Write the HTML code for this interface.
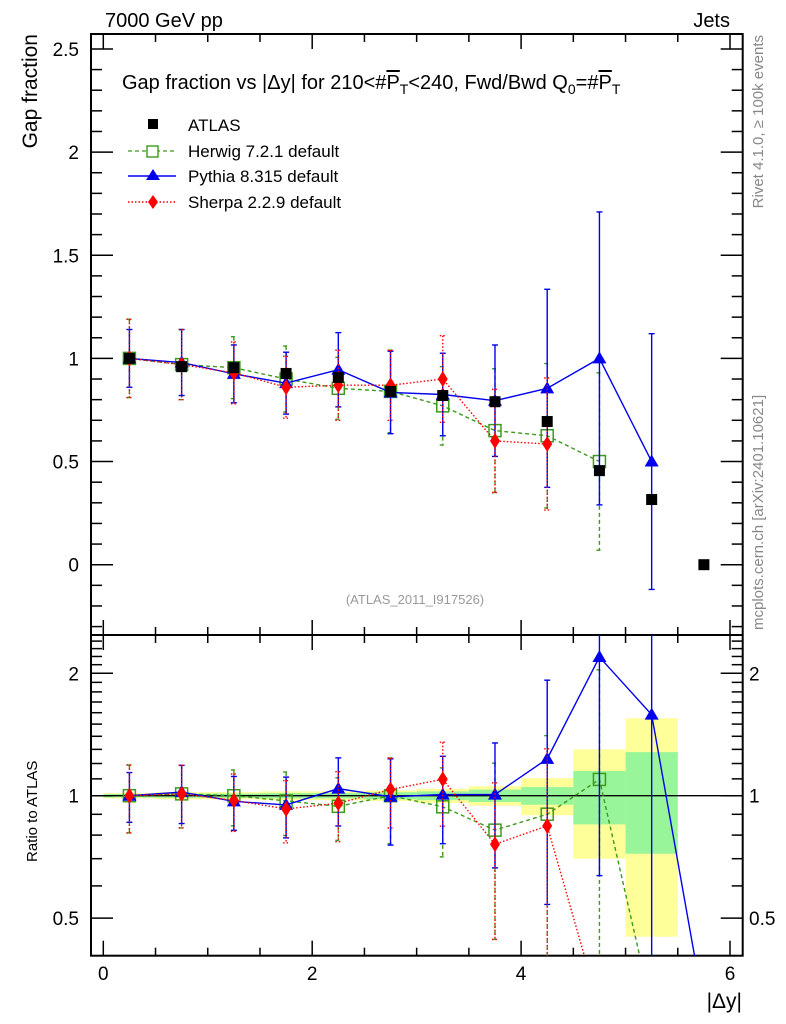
<!DOCTYPE html>
<html><head><meta charset="utf-8"><style>
html,body{margin:0;padding:0;background:#fff;overflow:hidden;width:786px;height:1024px;}
svg{display:block;font-family:"Liberation Sans",sans-serif;}
</style></head><body>
<svg id="c" width="786" height="1024" viewBox="0 0 786 1024" xmlns="http://www.w3.org/2000/svg">
<defs>
<clipPath id="cm"><rect x="91" y="34" width="651.7" height="601"/></clipPath>
<clipPath id="cr"><rect x="91" y="635" width="651.7" height="320.7"/></clipPath>
</defs>
<g id="bands" clip-path="url(#cr)"></g>
<g id="grid"></g>
<g id="main" clip-path="url(#cm)"></g>
<g id="ratio" clip-path="url(#cr)"></g>
<text x="105" y="27" font-size="20">7000 GeV pp</text>
<text x="730" y="27" font-size="20" text-anchor="end">Jets</text>
<text x="122" y="89" font-size="20">Gap fraction vs |Δy| for 210&lt;#<tspan text-decoration="overline">P</tspan><tspan font-size="14" dy="5">T</tspan><tspan dy="-5">&lt;240, Fwd/Bwd Q</tspan><tspan font-size="14" dy="5">0</tspan><tspan dy="-5">=#</tspan><tspan text-decoration="overline">P</tspan><tspan font-size="14" dy="5">T</tspan></text>
<g>
<rect x="148" y="119" width="10" height="10" fill="#000"/>
<text x="188" y="131" font-size="17">ATLAS</text>
<line x1="128" y1="151" x2="176" y2="151" stroke="#3c9a1c" stroke-width="1.3" stroke-dasharray="4,3"/>
<rect x="147" y="146" width="11" height="11" fill="#fff" stroke="#3c9a1c" stroke-width="1.4"/>
<text x="188" y="157" font-size="17">Herwig 7.2.1 default</text>
<line x1="128" y1="176" x2="176" y2="176" stroke="#0000ee" stroke-width="1.4"/>
<polygon points="153,169 160,180 146,180" fill="#0000ee"/>
<text x="188" y="182" font-size="17">Pythia 8.315 default</text>
<line x1="128" y1="202" x2="176" y2="202" stroke="#ff0000" stroke-width="1.4" stroke-dasharray="1.5,2"/>
<polygon points="153,195 158,202 153,209 148,202" fill="#ff0000"/>
<text x="188" y="208" font-size="17">Sherpa 2.2.9 default</text>
</g>
<text x="415" y="604" font-size="13" fill="#999" text-anchor="middle">(ATLAS_2011_I917526)</text>
<text transform="translate(763,35) rotate(-90)" font-size="15" fill="#888" text-anchor="end">Rivet 4.1.0, ≥ 100k events</text>
<text transform="translate(763,630) rotate(-90)" font-size="15" fill="#888">mcplots.cern.ch [arXiv:2401.10621]</text>
<text transform="translate(37,34) rotate(-90)" font-size="21" text-anchor="end">Gap fraction</text>
<text transform="translate(37,862) rotate(-90)" font-size="15">Ratio to ATLAS</text>
<text x="742" y="1008" font-size="21" text-anchor="end">|Δy|</text>
</svg>
<script>
const xCenters=[0.25,0.75,1.25,1.75,2.25,2.75,3.25,3.75,4.25,4.75,5.25,5.75];
const atlas=[1.0,0.96,0.955,0.927,0.908,0.84,0.82,0.79,0.694,0.456,0.316,0.0];
const bandTotal=[0.015,0.02,0.02,0.025,0.025,0.03,0.04,0.055,0.105,0.3,0.55,0];
const bandStat=[0.01,0.012,0.012,0.015,0.015,0.02,0.025,0.035,0.05,0.15,0.28,0];
const herwig=[1.0,0.97,0.955,0.9,0.855,0.84,0.77,0.65,0.625,0.5];
const herwigErr=[0.19,0.17,0.15,0.16,0.15,0.2,0.19,0.3,0.35,0.43];
const pythia=[1.0,0.98,0.925,0.88,0.945,0.835,0.825,0.795,0.855,1.0,0.5];
const pythiaErr=[0.14,0.16,0.14,0.15,0.18,0.2,0.2,0.27,0.48,0.71,0.62];
const sherpa=[1.0,0.97,0.93,0.86,0.87,0.87,0.9,0.6,0.585];
const sherpaErr=[0.19,0.17,0.15,0.15,0.17,0.17,0.21,0.25,0.32];
const ratioTail=0.3;
const xTicks=[0,2,4,6];
const yTicks=[0,0.5,1,1.5,2,2.5];
const rTicks=[0.5,1,2];

const NS="http://www.w3.org/2000/svg";
const X=v=>103.3+v*104.45;
const Y=v=>564.7-v*206.3;
const R=v=>795.7-122.4*Math.log2(v);
const L=0.25;
function mk(p,tag,at){const e=document.createElementNS(NS,tag);for(const k in at)e.setAttribute(k,at[k]);p.appendChild(e);return e;}
const grid=document.getElementById('grid'),main=document.getElementById('main'),ratio=document.getElementById('ratio'),bands=document.getElementById('bands');

for(let i=0;i<xCenters.length;i++){
  if(atlas[i]<=0)continue;
  const x0=X(xCenters[i]-L),w=X(xCenters[i]+L)-x0;
  let r=mk(bands,'rect',{x:x0,y:R(1+bandTotal[i]),width:w,height:R(Math.max(1-bandTotal[i],0.01))-R(1+bandTotal[i]),fill:'#ffff99'});
  
  
  r=mk(bands,'rect',{x:x0,y:R(1+bandStat[i]),width:w,height:R(1-bandStat[i])-R(1+bandStat[i]),fill:'#99f599'});
  
  
}
mk(ratio,'line',{x1:91,x2:743,y1:R(1),y2:R(1),stroke:'#000','stroke-width':1.3});

mk(grid,'rect',{x:91,y:34,width:651.7,height:921.7,fill:'none',stroke:'#000','stroke-width':2});
mk(grid,'line',{x1:91,x2:742.7,y1:635,y2:635,stroke:'#000','stroke-width':2});
function tk(x1,y1,x2,y2){mk(grid,'line',{x1,y1,x2,y2,stroke:'#000','stroke-width':1.5});}
for(let v=0;v<=6;v+=0.5){const x=X(v),big=(v%2===0);const l=big?15:8;
  tk(x,955.7,x,955.7-l);tk(x,635,x,635-l);tk(x,635,x,635+l);tk(x,34,x,34+l);}
xTicks.forEach(v=>{const t=mk(grid,'text',{x:X(v),y:980,'font-size':19,'text-anchor':'middle'});t.textContent=v;
  
  });
for(let k=-3;k<=25;k++){const v=k/10,y=Y(v);if(y<35||y>634)continue;const big=(k%5===0);const l=big?22:11;
  tk(91,y,91+l,y);tk(742.7,y,742.7-l,y);}
yTicks.forEach(v=>{const t=mk(grid,'text',{x:79,y:Y(v)+7,'font-size':19,'text-anchor':'end'});t.textContent=v;
  
  });
const minors=[0.4,0.6,0.7,0.8,0.9,1.1,1.2,1.3,1.4,1.5,1.6,1.7,1.8,1.9,2.1,2.2,2.3,2.4,2.5];
minors.forEach(v=>{const y=R(v);if(y<636||y>955)return;tk(91,y,102,y);tk(742.7,y,731.7,y);});
rTicks.forEach(v=>{const y=R(v);tk(91,y,113,y);tk(742.7,y,720.7,y);
  let t=mk(grid,'text',{x:79,y:y+7,'font-size':19,'text-anchor':'end'});t.textContent=v;
  
  
  t=mk(grid,'text',{x:749,y:y+7,'font-size':19});t.textContent=v;
  
  });

function marker(g,type,x,y,col){
  let e;
  if(type==='sq')e=mk(g,'rect',{x:x-5.5,y:y-5.5,width:11,height:11,fill:'#000'});
  else if(type==='osq')e=mk(g,'rect',{x:x-6,y:y-6,width:12,height:12,fill:'none',stroke:col,'stroke-width':1.5});
  else if(type==='tri')e=mk(g,'polygon',{points:`${x},${y-7} ${x+7},${y+5} ${x-7},${y+5}`,fill:col});
  else e=mk(g,'polygon',{points:`${x},${y-8} ${x+5},${y} ${x},${y+8} ${x-5},${y}`,fill:col});
  
  
}
function series(name,vals,errs,col,dash,type){
  const n=vals.length;
  const gm=mk(main,'g',{});
  const gr=mk(ratio,'g',{});
  const sw=1.4;
  let pm=[],pr=[];
  for(let i=0;i<n;i++){pm.push(X(xCenters[i])+','+Y(vals[i]));pr.push(X(xCenters[i])+','+R(vals[i]/atlas[i]));}
  pr.push(X(xCenters[n])+','+R(ratioTail));
  const a={fill:'none',stroke:col,'stroke-width':sw};if(dash)a['stroke-dasharray']=dash;
  const l1=mk(gm,'polyline',Object.assign({points:pm.join(' ')},a));
  
  
  const l2=mk(gr,'polyline',Object.assign({points:pr.join(' ')},a));
  
  
  for(let i=0;i<n;i++){
    const x=X(xCenters[i]);
    [[gm,Y(vals[i]+errs[i]),Y(vals[i]-errs[i])],[gr,R((vals[i]+errs[i])/atlas[i]),Math.min(R(Math.max((vals[i]-errs[i])/atlas[i],0.05)),960)]].forEach(([g,y1,y2])=>{
      const e=mk(g,'line',Object.assign({x1:x,x2:x,y1:y1,y2:y2},a));
      
      
      mk(g,'line',Object.assign({x1:x-3,x2:x+3,y1:y1,y2:y1},a));
      mk(g,'line',Object.assign({x1:x-3,x2:x+3,y1:y2,y2:y2},a));
    });
    marker(gm,type,x,Y(vals[i]),col);
    marker(gr,type,x,R(vals[i]/atlas[i]),col);
  }
}
series('herwig',herwig,herwigErr,'#3c9a1c','4,3','osq');
series('pythia',pythia,pythiaErr,'#0000ee',null,'tri');
series('sherpa',sherpa,sherpaErr,'#ff0000','1.5,2','dia');
const ga=mk(main,'g',{});
for(let i=0;i<xCenters.length;i++)marker(ga,'sq',X(xCenters[i]),Y(atlas[i]),'#000');
</script>
</body></html>
